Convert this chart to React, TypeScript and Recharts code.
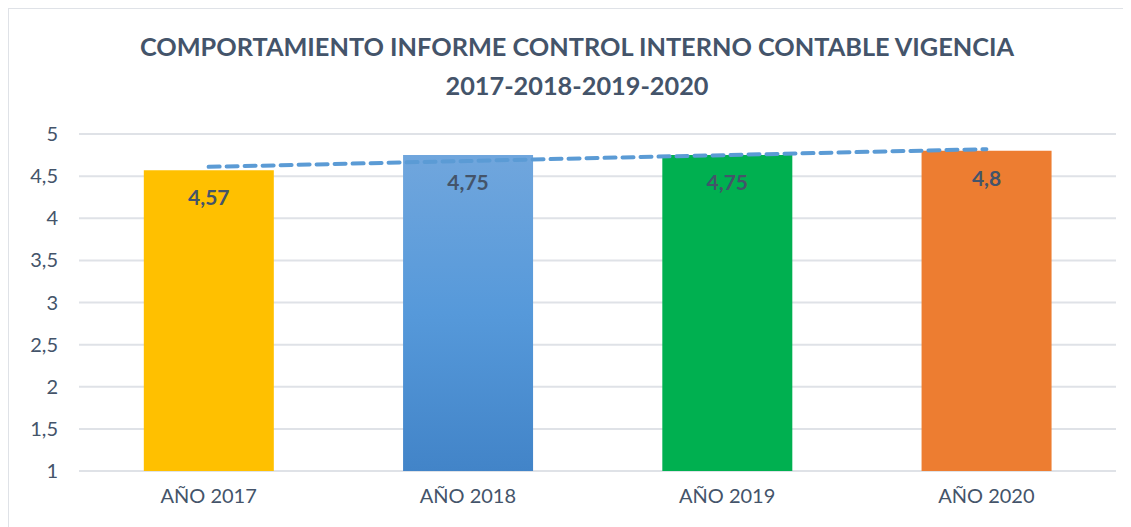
import React from 'react'
import { ComposedChart, Bar, Line, XAxis, YAxis, CartesianGrid, LabelList, Cell } from 'recharts'

// values
const years = ['AÑO 2017', 'AÑO 2018', 'AÑO 2019', 'AÑO 2020']
const scores = [4.57, 4.75, 4.75, 4.8]
const trend = [4.61, 4.68, 4.75, 4.82]
const yTicks = [1, 1.5, 2, 2.5, 3, 3.5, 4, 4.5, 5]
const barColors = ['#FFC000', 'url(#blueFill)', '#00B050', '#ED7D31']

const data = years.map((year, i) => ({ year, score: scores[i], trend: trend[i] }))

const font = 'Lato, "Noto Sans", sans-serif'
const comma = (v: number) => String(v).replace('.', ',')

export default function App() {
  return (
    <div style={{ position: 'relative', width: 1123, height: 519, borderTop: '1px solid #dfe2e7', borderLeft: '1px solid #dfe2e7', boxSizing: 'border-box', fontFamily: font, overflow: 'hidden' }}>
      <div style={{ position: 'absolute', left: 0, top: 18, width: 1136, textAlign: 'center', color: '#44546A', fontWeight: 700, fontSize: 25.3, lineHeight: '39px' }}>
        COMPORTAMIENTO INFORME CONTROL INTERNO CONTABLE VIGENCIA
        <br />
        2017-2018-2019-2020
      </div>
      <div style={{ position: 'absolute', left: 0, top: 0 }}>
        <ComposedChart width={1122} height={518} data={data} barCategoryGap="25%" margin={{ top: 125, right: 15, bottom: 26, left: 0 }}>
          <defs>
            <linearGradient id="blueFill" x1="0" y1="0" x2="0" y2="1">
              <stop offset="0%" stopColor="#70A6DD" />
              <stop offset="50%" stopColor="#5699DA" />
              <stop offset="100%" stopColor="#4284C8" />
            </linearGradient>
          </defs>
          <CartesianGrid vertical={false} stroke="#dfe2e7" strokeWidth={2} />
          <XAxis dataKey="year" axisLine={false} tickLine={false} tickSize={0} tickMargin={18}
            tick={{ fill: '#44546A', fontSize: 20, fontFamily: font }} />
          <YAxis domain={[1, 5]} ticks={yTicks} allowDataOverflow width={70} axisLine={false} tickLine={false}
            tickSize={0} tickMargin={21} tickFormatter={comma}
            tick={{ fill: '#44546A', fontSize: 20, fontFamily: font }} />
          <Bar dataKey="score" isAnimationActive={false}>
            {data.map((d, i) => <Cell key={d.year} fill={barColors[i]} />)}
            <LabelList dataKey="score" position="insideTop" offset={20} formatter={(v: any) => comma(v)}
              style={{ fill: '#44546A', fontSize: 21, fontWeight: 700, fontFamily: font }} />
          </Bar>
          <Line dataKey="trend" type="linear" stroke="#5B9BD5" strokeWidth={4} strokeDasharray="11 7" strokeLinecap="round"
            dot={false} activeDot={false} isAnimationActive={false} />
        </ComposedChart>
      </div>
    </div>
  )
}
